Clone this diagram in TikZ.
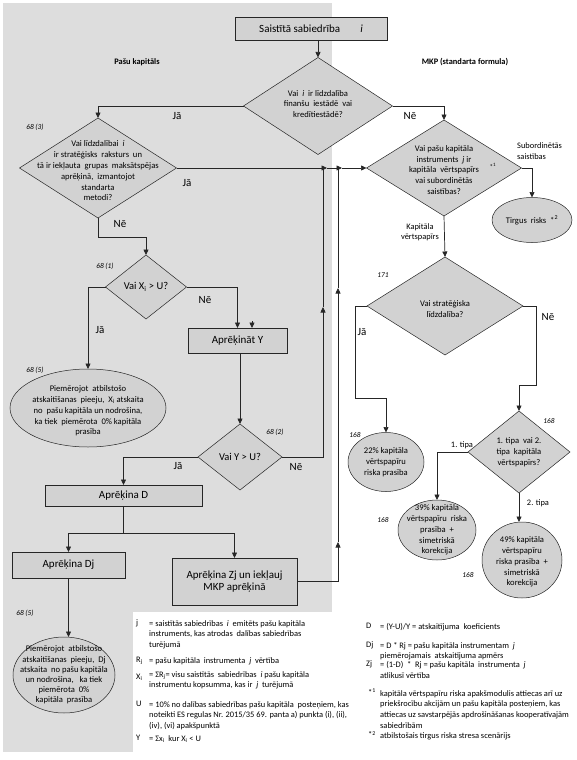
\documentclass[tikz,border=0pt]{standalone}
\usepackage{fontspec}
\setmainfont{Carlito}
\usepackage{xcolor}
\usepackage{tikz}
\usetikzlibrary{arrows.meta}
\usetikzlibrary{shapes.geometric}

\definecolor{panelgrey}{HTML}{DDDDDD}
\definecolor{shapegrey}{HTML}{D2D2D2}
\definecolor{inkgrey}{HTML}{262626}

\newcommand{\ftop}{\fontsize{11}{12.5}\selectfont}
\newcommand{\fdia}{\fontsize{8.6}{10.8}\selectfont}
\newcommand{\fjn}{\fontsize{11}{12}\selectfont}
\newcommand{\flab}{\fontsize{8.4}{10.4}\selectfont}
\newcommand{\fsec}{\fontsize{7.4}{8}\selectfont\itshape}
\newcommand{\fleg}{\fontsize{8.4}{10.7}\selectfont}
\newcommand{\fhdr}{\fontsize{8.4}{10}\selectfont\bfseries}

\tikzset{
  conn/.style={draw=inkgrey, line width=0.7pt},
  arr/.style={conn, -{Triangle[length=5.5pt,width=5pt]}},
  stepbox/.style={draw=inkgrey, line width=0.6pt, fill=shapegrey, inner sep=0pt, outer sep=0pt, font=\ftop, align=center},
  dia/.style={diamond, draw=inkgrey, line width=0.5pt, fill=shapegrey, inner sep=0pt, outer sep=0pt},
  ell/.style={ellipse, draw=inkgrey, line width=0.5pt, fill=shapegrey, inner sep=0pt, outer sep=0pt},
  intext/.style={font=\fdia, align=center, inner sep=0pt},
  jn/.style={font=\fjn, inner sep=0pt},
  lab/.style={font=\flab, inner sep=0pt, align=center},
  sec/.style={font=\fsec, inner sep=0pt},
  hdr/.style={font=\fhdr, inner sep=0pt},
  legsym/.style={font=\fleg, inner sep=0pt, anchor=north west},
  legtxt/.style={font=\fleg, inner sep=0pt, anchor=north west, align=left},
}

\begin{document}
\begin{tikzpicture}[x=1pt,y=-1pt]
    \useasboundingbox (0,0) rectangle (576,760);
    % grey panel: own funds side
    \fill[panelgrey] (3,3) rectangle (332,612);
    \fill[panelgrey] (3,612) rectangle (133,752);

    \node[hdr] (hpk) at (137,62) {Pašu kapitāls};
    \node[hdr] (hmkp) at (465,62) {MKP (standarta formula)};

    % boxes
    \node[stepbox, minimum width=152pt, minimum height=23pt] (top) at (311,28.5) {Saistītā sabiedrība\hspace{20pt}\textit{i}};
    \node[stepbox, minimum width=99pt, minimum height=25pt] (ay) at (237.5,340.5) {Aprēķināt Y};
    \node[stepbox, minimum width=157pt, minimum height=21pt] (ad) at (123.5,495.5) {Aprēķina D};
    \node[stepbox, minimum width=113pt, minimum height=26pt] (adj) at (68.5,565) {Aprēķina Dj};
    \node[stepbox, minimum width=125pt, minimum height=47pt] (azj) at (234.5,581.5) {Aprēķina Zj un iekļauj\\ MKP aprēķinā};

    % decisions
    \node[dia, minimum width=149pt, minimum height=97pt] (d1) at (318,106) {};
    \node[intext] (d1t) at ([yshift=2pt]d1.center) {Vai \ \textit{i} \ ir līdzdalība\\ finanšu \ iestādē \ vai\\ kredītiestādē?};
    \node[dia, minimum width=157pt, minimum height=100pt] (d2) at (98,168) {};
    \node[intext] (d2t) at ([yshift=-3pt]d2.center) {Vai līdzdalībai \ \textit{i}\\ ir stratēģisks \ raksturs \ un\\ tā ir iekļauta \ grupas \ maksātspējas\\ aprēķinā, \ izmantojot\\ standarta\\ metodi?};
    \node[dia, minimum width=155pt, minimum height=96pt] (d3) at (444,168) {};
    \node[intext] (d3t) at ([yshift=-2pt]d3.center) {Vai pašu kapitāla\\ instruments \ \textit{j} ir\\ kapitāla \ vērtspapīrs\\ vai subordinētās\\ saistības?};
    \node[lab, font=\fontsize{7}{8}\selectfont] (st1) at (493,166) {*\textsuperscript{1}};
    \node[dia, minimum width=81pt, minimum height=64pt] (d4) at (146,287) {};
    \node[intext, font=\fontsize{10.5}{12}\selectfont] (d4t) at (d4) {Vai X\textsubscript{i} > U?};
    \node[dia, minimum width=84pt, minimum height=66pt] (d5) at (240,457) {};
    \node[intext, font=\fontsize{10.5}{12}\selectfont] (d5t) at (d5) {Vai Y > U?};
    \node[dia, minimum width=156pt, minimum height=98pt] (d6) at (445,306) {};
    \node[intext] (d6t) at ([yshift=-3pt]d6.center) {Vai stratēģiska\\ līdzdalība?};
    \node[dia, minimum width=102pt, minimum height=82pt] (d7) at (519,452) {};
    \node[intext] (d7t) at (d7) {1. tipa \ vai 2.\\ tipa \ kapitāla\\ vērtspapīrs?};

    % outcomes
    \node[ell, minimum width=156pt, minimum height=78pt] (e1) at (88,408) {};
    \node[intext] (e1t) at ([yshift=-3pt]e1.center) {Piemērojot \ atbilstošo\\ atskaitīšanas \ pieeju, \ X\textsubscript{i} atskaita\\ no \ pašu kapitāla un nodrošina,\\ ka tiek \ piemērota \ 0\% kapitāla\\ prasība};
    \node[ell, minimum width=102pt, minimum height=76pt] (e2) at (64,675) {};
    \node[intext, font=\fontsize{8.6}{10.2}\selectfont] (e2t) at (e2) {Piemērojot \ atbilstošo\\ atskaitīšanas \ pieeju, \ Dj\\ atskaita \ no pašu kapitāla\\ un nodrošina, \ \ ka tiek\\ piemērota \ 0\%\\ kapitāla \ prasība};
    \node[ell, minimum width=80pt, minimum height=45pt] (etr) at (532,220) {};
    \node[intext] (etrt) at (etr) {Tirgus \ risks \ *\textsuperscript{2}};
    \node[ell, minimum width=76pt, minimum height=59pt] (e22) at (386,462) {};
    \node[intext] (e22t) at (e22) {22\% kapitāla\\ vērtspapīru\\ riska prasība};
    \node[ell, minimum width=78pt, minimum height=60pt] (e39) at (437,530) {};
    \node[intext] (e39t) at (e39) {39\% kapitāla\\ vērtspapīru \ riska\\ prasība \ +\\ simetriskā\\ korekcija};
    \node[ell, minimum width=80pt, minimum height=76pt] (e49) at (522,560) {};
    \node[intext] (e49t) at ([yshift=-2pt]e49.center) {49\% kapitāla\\ vērtspapīru\\ riska prasība \ +\\ simetriskā\\ korekcija};

    % junction points on the lines going back up
    \coordinate (jA) at (327,168);
    \coordinate (jB) at (342,168);
    \coordinate (up1) at (323,307);
    \coordinate (k1) at (323,168);
    \coordinate (up2) at (338,542);
    \coordinate (up3) at (338,288);
    \coordinate (k2) at (338,168);
    \coordinate (sy) at (252,321);
    \coordinate (c1) at (355,398);
    \coordinate (c2) at (536,385);

    % connectors
    \draw[arr] (top.south -| d1.north) -- (d1.north);
    \draw[arr] (d1.west) -| (d2.north);
    \draw[arr] (d1.east) -| (d3.north);
    \draw[arr] (d2.east) -- (jA);
    \draw[arr] (jA) -- (jB);
    \draw[arr] (jB) -- (d3.west);
    \draw[arr] (d2.south) -- ++(0,19) -| (d4.north);
    \draw[arr] (d4.west) -| (e1.north);
    \draw[arr] (d4.east) -| (ay.north);
    \draw[arr] (sy) -- (sy |- ay.north);
    \draw[arr] (ay.south -| d5.north) -- (d5.north);
    \draw[arr] (d5.east) -| (up1);
    \draw[conn] (up1) -- (k1);
    \draw[arr] (d5.west) -| (ad.north);
    \draw[conn] (ad.south) -- ++(0,27) coordinate (split);
    \draw[arr] (split) -| (adj.north);
    \draw[arr] (split) -| (azj.north);
    \draw[arr] (azj.east) -| (up2);
    \draw[arr] (up2) -- (up3);
    \draw[conn] (up3) -- (k2);
    \draw[arr] (adj.south) -- (adj.south |- e2.north);
    \draw[arr] (d3.east) -| (etr.north);
    \draw[arr] (d3.south) -- (d6.north);
    \draw[arr] (d6.west) -| (c1) -| (e22.north);
    \draw[arr] (d6.east) -| (c2) -| (d7.north);
    \draw[arr] (d7.west) -| (e39.north);
    \draw[arr] (d7.south) -- (d7.south |- e49.north);

    % branch labels
    \node[jn] (l1) at (177,116) {Jā};
    \node[jn] (l2) at (410,116) {Nē};
    \node[jn] (l3) at (187,183) {Jā};
    \node[jn] (l4) at (120,224) {Nē};
    \node[jn] (l5) at (100,330) {Jā};
    \node[jn] (l6) at (205,300) {Nē};
    \node[jn] (l7) at (178,466) {Jā};
    \node[jn] (l8) at (296,467) {Nē};
    \node[jn] (l9) at (362,332) {Jā};
    \node[jn] (l10) at (548,317) {Nē};
    \node[lab, anchor=west, align=left] (lsub) at (517,151) {Subordinētās\\ saistības};
    \node[lab, anchor=east] (lkap) at (439,232) {Kapitāla\\ vērtspapīrs};
    \node[lab] (lt1) at (462,445) {1. tipa};
    \node[lab] (lt2) at (538,503) {2. tipa};

    % article references
    \node[sec] (r1) at (35,127) {68 (3)};
    \node[sec] (r2) at (105,266) {68 (1)};
    \node[sec] (r3) at (35,370) {68 (5)};
    \node[sec] (r4) at (275,432) {68 (2)};
    \node[sec] (r5) at (25,613) {68 (5)};
    \node[sec] (r6) at (383,275) {171};
    \node[sec] (r7) at (355,435) {168};
    \node[sec] (r8) at (549,421) {168};
    \node[sec] (r9) at (383,520) {168};
    \node[sec] (r10) at (468,575) {168};

    % legend
    \node[legsym] (sj) at (136,620) {j};
    \node[legtxt] (tj) at (149,620) {= saistītās sabiedrības \ \textit{i} \ emitēts pašu kapitāla\\ instruments, kas atrodas \ dalības sabiedrības\\ turējumā};
    \node[legsym] (sr) at (136,657) {R\textsubscript{j}};
    \node[legtxt] (tr) at (149,657) {= pašu kapitāla \ instrumenta \ \textit{j} \ vērtība};
    \node[legsym] (sx) at (136,674) {X\textsubscript{i}};
    \node[legtxt] (tx) at (149,671) {= ΣR\textsubscript{j}= visu saistītās \ sabiedrības \ \textit{i} pašu kapitāla\\ instrumentu kopsumma, kas ir \ \textit{j} \ turējumā};
    \node[legsym] (su) at (136,701) {U};
    \node[legtxt] (tu) at (149,701) {= 10\% no dalības sabiedrības pašu kapitāla \ posteņiem, kas\\ noteikti ES regulas Nr. 2015/35 69. panta a) punkta (i), (ii),\\ (iv), (vi) apakšpunktā};
    \node[legsym] (sy2) at (136,735) {Y};
    \node[legtxt] (ty) at (149,735) {= Σx\textsubscript{i} \ kur X\textsubscript{i} < U};
    \node[legsym] (sd) at (366,623) {D};
    \node[legtxt] (td) at (380,623) {= (Y-U)/Y = atskaitījuma \ koeficients};
    \node[legsym] (sdj) at (366,642) {Dj};
    \node[legtxt] (tdj) at (380,642) {= D * Rj = pašu kapitāla instrumentam \ \textit{j}\\ piemērojamais \ atskaitījuma apmērs};
    \node[legsym] (szj) at (366,661) {Zj};
    \node[legtxt] (tzj) at (380,661) {= (1-D) \ * \ Rj = pašu kapitāla \ instrumenta \ \textit{j}\\ atlikusī vērtība};
    \node[legsym] (s1) at (368,689) {*\textsuperscript{1}};
    \node[legtxt] (t1) at (380,690) {kapitāla vērtspapīru riska apakšmodulis attiecas arī uz\\ priekšrocību akcijām un pašu kapitāla posteņiem, kas\\ attiecas uz savstarpējās apdrošināšanas kooperatīvajām\\ sabiedrībām};
    \node[legsym] (s2) at (368,731) {*\textsuperscript{2}};
    \node[legtxt] (t2) at (380,732) {atbilstošais tirgus riska stresa scenārijs};
\end{tikzpicture}
\end{document}
